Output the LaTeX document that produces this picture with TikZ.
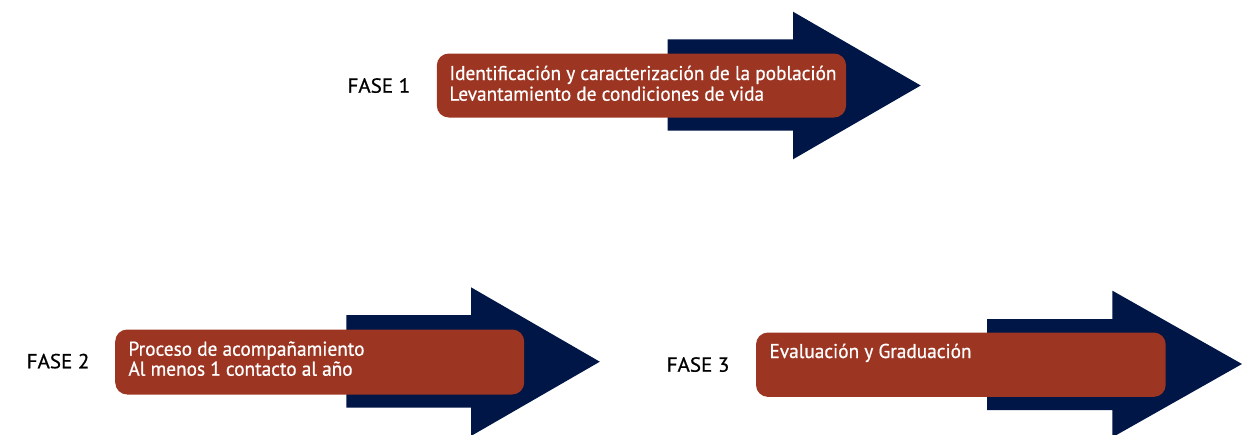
\documentclass[tikz,border=0pt]{standalone}
\usepackage{fontspec}
\usepackage{graphicx}
\newfontfamily\dinfont[FakeBold=0.7]{PT Sans}
\definecolor{navyarrow}{RGB}{0,22,70}
\definecolor{rustbox}{RGB}{156,53,34}
\newsavebox\measboxA
\newsavebox\measboxB
\newcommand\boxline[1]{\scalebox{\hfacA}[1]{#1}}
\newcommand\labline[1]{\scalebox{\hfacB}[1]{#1}}
\tikzset{
  arrowshape/.style={fill=navyarrow, draw=none},
  phasebox/.style={fill=rustbox, draw=none, rounded corners=12pt, inner sep=0pt, anchor=north west},
  boxtext/.style={text=white, font=\dinfont\fontsize{20}{20.7}\selectfont, anchor=base west, inner sep=0pt},
  phaselabel/.style={text=black, font=\dinfont\fontsize{20.4}{21}\selectfont, anchor=base west, inner sep=0pt}
}
\begin{document}
\sbox\measboxA{\dinfont\fontsize{20}{20.7}\selectfont Identificación y caracterización de la población}%
\sbox\measboxB{\dinfont\fontsize{20.4}{21}\selectfont FASE 1}%
\pgfmathsetmacro\hfacA{387/\the\wd\measboxA}%
\pgfmathsetmacro\hfacB{62.7/\the\wd\measboxB}%
\begin{tikzpicture}[x=1pt,y=-1pt]
\useasboundingbox (0,0) rectangle (1256,434);
\clip (0,0) rectangle (1256,434);
% arrows
\fill[arrowshape] (667.5,39.3) -- (793,39.3) -- (793,11.7) -- (920.7,85.5) -- (793,159.3) -- (793,130.7) -- (667.5,130.7) -- cycle;
\fill[arrowshape] (346.4,315) -- (471,315) -- (471,287.3) -- (599.8,361.7) -- (471,436) -- (471,407.7) -- (346.4,407.7) -- cycle;
\fill[arrowshape] (987,319) -- (1112.4,319) -- (1112.4,290.7) -- (1242,364) -- (1112.4,437.3) -- (1112.4,410) -- (987,410) -- cycle;
% boxes
\node[phasebox, minimum width=409.3pt, minimum height=64pt] (b1) at (436.6,53.3) {};
\node[phasebox, minimum width=409pt, minimum height=65pt] (b2) at (115,329.3) {};
\node[phasebox, minimum width=409.7pt, minimum height=64.4pt] (b3) at (755.8,332.3) {};
% box texts
\node[boxtext] (t1a) at (449.3,80) {\boxline{Identificación y caracterización de la población}};
\node[boxtext] (t1b) at (449.3,100.7) {\boxline{Levantamiento de condiciones de vida}};
\node[boxtext] (t2a) at (128.3,355.7) {\boxline{Proceso de acompañamiento}};
\node[boxtext] (t2b) at (128.3,375.7) {\boxline{Al menos 1 contacto al año}};
\node[boxtext] (t3a) at (769.3,358) {\boxline{Evaluación y Graduación}};
% labels
\node[phaselabel] (f1) at (347.3,92.7) {\labline{FASE 1}};
\node[phaselabel] (f2) at (26.5,368.3) {\labline{FASE 2}};
\node[phaselabel] (f3) at (666.5,371.7) {\labline{FASE 3}};
\end{tikzpicture}
\end{document}
